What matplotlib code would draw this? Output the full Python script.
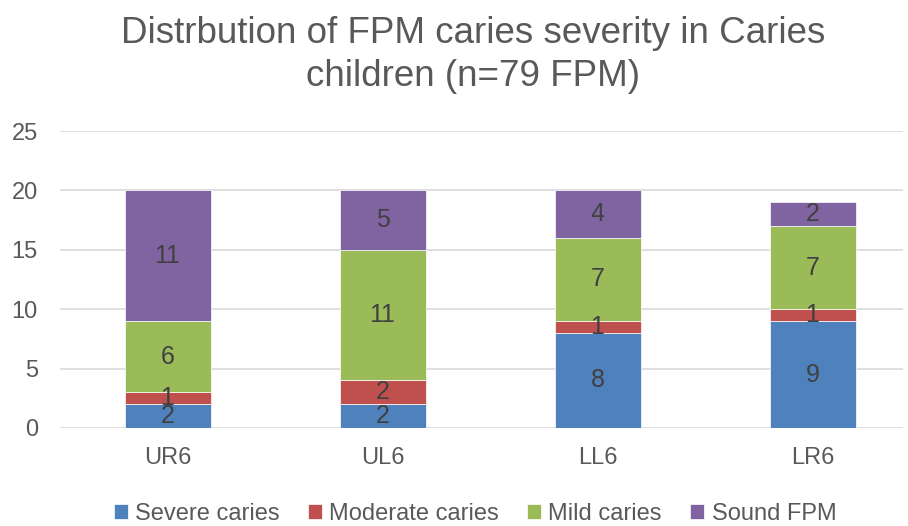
import numpy as np
import matplotlib
matplotlib.use("Agg")
import matplotlib.pyplot as plt

plt.rcParams['font.family'] = ['Liberation Sans', 'DejaVu Sans']

teeth = ["UR6", "UL6", "LL6", "LR6"]
severe = [2, 2, 8, 9]
moderate = [1, 2, 1, 1]
mild = [6, 11, 7, 7]
sound = [11, 5, 4, 2]
series_names = ["Severe caries", "Moderate caries", "Mild caries", "Sound FPM"]
colors = ["#4F81BD", "#C0504D", "#9BBB59", "#8064A2"]
txt = "#595959"

W, H = 908, 526
fig = plt.figure(figsize=(W / 100, H / 100), dpi=100)
ax = fig.add_axes([60 / W, 98 / H, (903 - 60) / W, (428 - 131) / H])

x = np.arange(len(teeth))
bottom = np.zeros(len(teeth))
for vals, name, c in zip([severe, moderate, mild, sound], series_names, colors):
    bars = ax.bar(x, vals, width=0.4, bottom=bottom, color=c, label=name,
                  edgecolor="white", linewidth=0.5, zorder=3)
    for b, v in zip(bars, vals):
        ax.text(b.get_x() + b.get_width() / 2, b.get_y() + b.get_height() / 2,
                str(v), ha="center", va="center", fontsize=18, color="#404040", zorder=4)
    bottom += np.array(vals)

ax.set_ylim(0, 25)
ax.set_xlim(-0.5, -0.5 + (903 - 60) / 215)
ax.set_yticks(range(0, 26, 5))
ax.set_xticks(x)
ax.set_xticklabels(teeth)
ax.tick_params(length=0, labelsize=17, labelcolor=txt)
ax.tick_params(axis="y", pad=16)
ax.tick_params(axis="x", pad=14)
ax.grid(axis="y", color="#D9D9D9", linewidth=1.2, zorder=0)
for s in ax.spines.values():
    s.set_visible(False)

fig.text(473 / W, 1 - 55 / H, "Distrbution of FPM caries severity in Caries\nchildren (n=79 FPM)",
         ha="center", va="center", fontsize=26.5, color=txt, linespacing=1.27)

fig.legend(loc="center", bbox_to_anchor=(475 / W, 1 - 514 / H), ncol=4, frameon=False,
           fontsize=17, handlelength=0.6, handleheight=0.6, handletextpad=0.3,
           columnspacing=1.2, labelcolor=txt)

fig.savefig("out.png", dpi=100)
